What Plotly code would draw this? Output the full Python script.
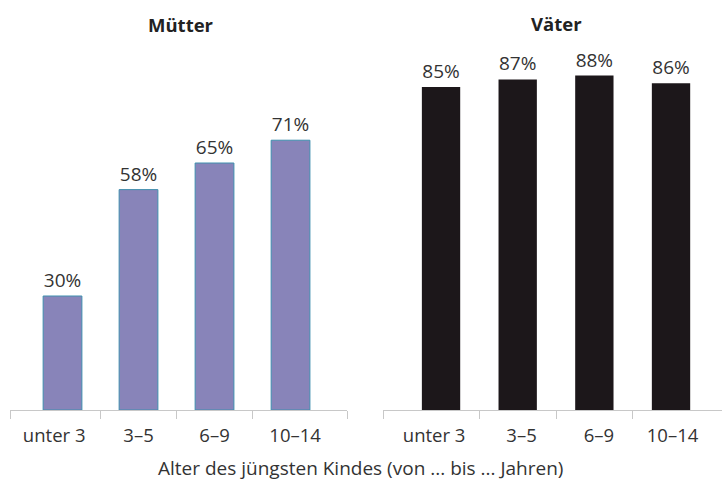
import plotly.graph_objects as go

categories = ["unter 3", "3–5", "6–9", "10–14"]
muetter = [30, 58, 65, 71]
vaeter = [85, 87, 88, 86]
panel_titles = ["Mütter", "Väter"]
x_title = "Alter des jüngsten Kindes (von ... bis ... Jahren)"

W, H = 722, 485
FONT = "Open Sans"
TXT = "#333333"

# small horizontal nudges of the category labels (in category units), as in the original layout
label_nudge_left = [-0.11, 0.0, 0.0, 0.06]
label_nudge_right = [-0.09, 0.05, 0.06, 0.02]

fig = go.Figure()
idx = list(range(len(categories)))

fig.add_trace(go.Bar(
    x=idx, y=muetter, xaxis="x", yaxis="y", width=0.51,
    marker=dict(color="#8884b9", line=dict(color="#3f8fae", width=1)),
    texttemplate="%{y}%", textposition="outside", cliponaxis=False,
    constraintext="none",
    textfont=dict(family=FONT, size=19, color=TXT), showlegend=False,
))
fig.add_trace(go.Bar(
    x=idx, y=vaeter, xaxis="x2", yaxis="y2", width=0.50,
    marker=dict(color="#1c171a", line=dict(width=0)),
    texttemplate="%{y}%", textposition="outside", cliponaxis=False,
    constraintext="none",
    textfont=dict(family=FONT, size=19, color=TXT), showlegend=False,
))

def xax(domain, rng, minor_vals, nudge):
    return dict(
        domain=domain, range=rng, showgrid=False, zeroline=False,
        showline=True, linecolor="#c8c8c8", linewidth=1,
        tickmode="array", tickvals=[i + d for i, d in zip(idx, nudge)],
        ticktext=categories, ticks="",
        ticklabelstandoff=9,
        tickfont=dict(family=FONT, size=18.5, color=TXT),
        minor=dict(tickmode="array", tickvals=minor_vals, ticks="outside",
                   ticklen=8, tickcolor="#c8c8c8", tickwidth=1, showgrid=False),
        fixedrange=True,
    )

yax = dict(range=[0, 107.9], visible=False, showgrid=False, zeroline=False, fixedrange=True)

fig.update_layout(
    width=W, height=H,
    margin=dict(l=0, r=0, t=0, b=75),
    paper_bgcolor="white", plot_bgcolor="white",
    bargap=0.5,
    xaxis=xax([10 / W, 347 / W], [-0.691, 3.743], [-0.691, 0.5, 1.5, 2.5, 3.743], label_nudge_left),
    xaxis2=xax([383 / W, 1.0], [-0.757, 3.665], [-0.757, 0.5, 1.5, 2.5], label_nudge_right),
    yaxis=dict(yax, domain=[0, 1], anchor="x"),
    yaxis2=dict(yax, domain=[0, 1], anchor="x2"),
    annotations=[
        dict(text="<b>" + panel_titles[0] + "</b>", xref="x", yref="paper",
             x=1.5, y=1 - 24 / 410, xshift=4, showarrow=False, yanchor="middle",
             font=dict(family=FONT, size=18.5, color="#222222")),
        dict(text="<b>" + panel_titles[1] + "</b>", xref="x2", yref="paper",
             x=1.5, y=1 - 23 / 410, showarrow=False, yanchor="middle",
             font=dict(family=FONT, size=18.5, color="#222222")),
        dict(text=x_title, xref="paper", yref="paper", x=360 / W, y=-(468 - 410) / 410,
             showarrow=False, xanchor="center", yanchor="middle",
             font=dict(family=FONT, size=19, color=TXT)),
    ],
)

fig.write_html("out.html")
